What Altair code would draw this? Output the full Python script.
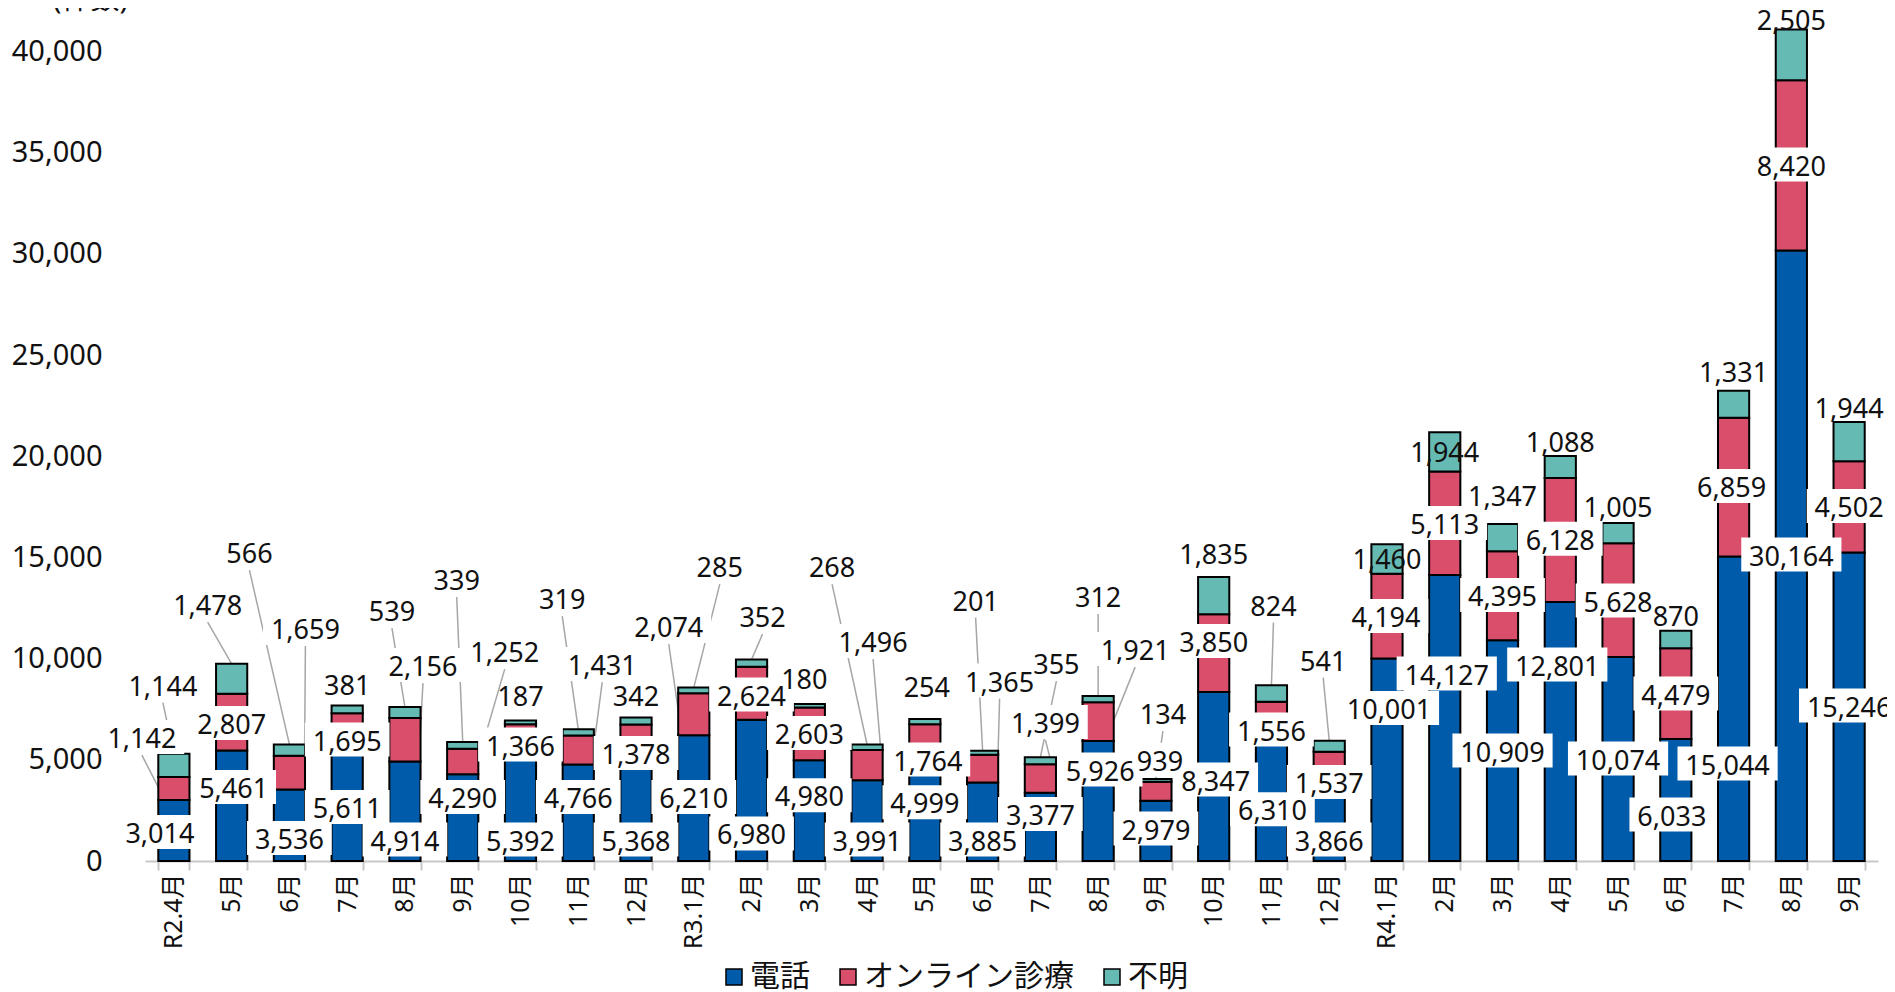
import altair as alt
import pandas as pd

# ---------------- data ----------------
months = ["R2.4月", "5月", "6月", "7月", "8月", "9月", "10月", "11月", "12月",
          "R3.1月", "2月", "3月", "4月", "5月", "6月", "7月", "8月", "9月",
          "10月", "11月", "12月", "R4.1月", "2月", "3月", "4月", "5月", "6月",
          "7月", "8月", "9月"]
phone = [3014, 5461, 3536, 5611, 4914, 4290, 5392, 4766, 5368, 6210, 6980, 4980,
         3991, 4999, 3885, 3377, 5926, 2979, 8347, 6310, 3866, 10001, 14127, 10909,
         12801, 10074, 6033, 15044, 30164, 15246]
online = [1142, 2807, 1659, 1695, 2156, 1252, 1366, 1431, 1378, 2074, 2624, 2603,
          1496, 1764, 1365, 1399, 1921, 939, 3850, 1556, 1537, 4194, 5113, 4395,
          6128, 5628, 4479, 6859, 8420, 4502]
unknown = [1144, 1478, 566, 381, 539, 339, 187, 319, 342, 285, 352, 180,
           268, 254, 201, 355, 312, 134, 1835, 824, 541, 1460, 1944, 1347,
           1088, 1005, 870, 1331, 2505, 1944]
series_names = ["電話", "オンライン診療", "不明"]
series_colors = ["#005BAB", "#D94E6B", "#66BAB4"]

# ---------------- label layout (position of each data label in counts, shift in px) ----------------
phone_lab_y = [1280, 3503, 983, 2515, 914, 3009, 914, 3009, 914, 3009, 1215, 3100,
               914, 2760, 914, 2169, 4368, 1453, 3874, 2406, 914, 7407, 9111, 5307,
               9556, 4911, 2144, 4664, 14991, 7530]
phone_lab_dx = [-14, 2, 0, 0, 0, 0, 0, 0, 0, 0, 0, 0, 0, 0, 0, 0, 2, 0, 2, 1, 0, 2, 2, 0,
                -3, 0, -4, -6, 0, 0]
online_lab_y = [5974, 6665, 11359, 5850, 9531, 10223, 5603, 9581, 5183, 11458, 8074, 6171,
                10717, 4862, 8765, 6715, 10322, 4852, 10717, 6344, 3750, 11952, 16548, 12990,
                15772, 12718, 8123, 18376, 34261, 17387]
online_lab_dx = [-32, 0, 16, 0, 18, 42, 0, 24, 0, -25, 0, 0, 6, 3, 17, 5, 37, 4, 0, 0, 0, -1,
                 0, 0, 0, 0, 0, -2, 0, 0]
unknown_lab_y = [8568, 12545, 15115, 8592, 12249, 13781, 8074, 12842, 8074, 14423, 11952, 8889,
                 14423, 8494, 12768, 9630, 12941, 7160, 15065, 12520, 9803, 14818, 20105, 17956,
                 20599, 17387, 12026, 24058, 41450, 22279]
unknown_lab_dx = [-11, -24, -40, 0, -13, -6, 0, -16, 0, 26, 11, -5, -35, 2, -7, 16, 0, 7, 0, 2,
                  -6, 0, 0, 0, 0, 0, 0, 0, 0, 0]
online_leader = [1, 0, 1, 0, 1, 1, 0, 1, 0, 1, 0, 0, 1, 0, 1, 1, 1, 0, 0, 0,
                 0, 0, 0, 0, 0, 0, 0, 0, 0, 0]
unknown_leader = [1, 1, 1, 0, 1, 1, 0, 1, 0, 1, 1, 0, 1, 0, 1, 1, 1, 1, 0, 1,
                  1, 0, 0, 0, 0, 0, 0, 0, 0, 0]

# ---------------- geometry ----------------
W, H = 1733, 850
YMAX = 42000
N = len(months)
STEP = W / N
PX = YMAX / H
FONT = "Noto Sans, Noto Sans CJK JP, sans-serif"
LFS = 27
TXT = "#111111"


def text_w(s):
    return sum(0.572 * LFS if c.isdigit() else 0.258 * LFS for c in s)


bars_df = pd.DataFrame([
    {"idx": i, "series": s, "value": v, "ord": k}
    for k, (s, arr) in enumerate(zip(series_names, [phone, online, unknown]))
    for i, v in enumerate(arr)
])

lab_rows, box_rows, lead_rows = [], [], []
for i in range(N):
    vals = [phone[i], online[i], unknown[i]]
    ys = [phone_lab_y[i], online_lab_y[i], unknown_lab_y[i]]
    dxs = [phone_lab_dx[i], online_lab_dx[i], unknown_lab_dx[i]]
    for s in range(3):
        t = f"{vals[s]:,}"
        xq = i + dxs[s] / STEP
        lab_rows.append({"x": xq, "y": ys[s], "t": t})
        if s < 2:
            half = (text_w(t) + 16) / 2 / STEP
            yc = ys[s] + 3 * PX
            box_rows.append({"x": xq - half, "x2": xq + half,
                             "y": yc - 17 * PX, "y2": yc + 17 * PX})
    total = phone[i] + online[i] + unknown[i]
    if unknown_leader[i]:
        lead_rows.append({"x": i + dxs[2] / STEP, "y": ys[2] - 15 * PX,
                          "x2": i, "y2": total})
    if online_leader[i]:
        side = 0 if abs(dxs[1]) < 5 else (1 if dxs[1] > 0 else -1)
        lead_rows.append({"x": i + dxs[1] / STEP, "y": ys[1] - 15 * PX,
                          "x2": i + side * 15 / STEP, "y2": phone[i] + online[i] / 2})

lab_df = pd.DataFrame(lab_rows)
box_df = pd.DataFrame(box_rows)
lead_df = pd.DataFrame(lead_rows)

yscale = alt.Scale(domain=[0, YMAX], nice=False, zero=True)
qx = alt.Scale(domain=[-0.5, N - 0.5], nice=False, zero=False)

month_expr = "[" + ",".join(f"'{m}'" for m in months) + "][datum.value]"

leaders = alt.Chart(lead_df).mark_rule(color="#A6A6A6", strokeWidth=1.5).encode(
    x=alt.X("x:Q", scale=qx, axis=None),
    x2="x2:Q",
    y=alt.Y("y:Q", scale=yscale, axis=None),
    y2="y2:Q",
)

bars = alt.Chart(bars_df).mark_bar(stroke="black", strokeWidth=2).encode(
    x=alt.X("idx:O", scale=alt.Scale(paddingInner=0.46, paddingOuter=0.23),
            axis=alt.Axis(labelExpr=month_expr, labelAngle=-90, labelFontSize=25,
                          labelFont=FONT, labelColor=TXT, labelPadding=3,
                          tickBand="extent", tickSize=9, tickColor="#C8C8C8", tickWidth=2,
                          domainColor="#C8C8C8", domainWidth=2, title=None, grid=False)),
    y=alt.Y("value:Q", stack="zero", scale=yscale,
            axis=alt.Axis(values=list(range(0, 40001, 5000)), format=",.0f",
                          labelFontSize=29, labelFont=FONT, labelColor=TXT,
                          labelPadding=43, ticks=False, domain=False,
                          gridColor="#D9D9D9", gridWidth=2,
                          title="(件数)", titleAngle=0, titleX=-55, titleY=3,
                          titleBaseline="bottom", titleAlign="center",
                          titleFontSize=29, titleFont=FONT, titleFontWeight="normal",
                          titleColor=TXT)),
    color=alt.Color("series:N", scale=alt.Scale(domain=series_names, range=series_colors),
                    legend=alt.Legend(orient="none", legendX=574, legendY=951,
                                      direction="horizontal", title=None,
                                      symbolType="square", symbolSize=256,
                                      symbolStrokeColor="black", symbolStrokeWidth=1.5,
                                      labelFontSize=30, labelFont=FONT, labelColor=TXT,
                                      labelLimit=400, columnPadding=23, labelOffset=1)),
    order=alt.Order("ord:Q", sort="ascending"),
)

boxes = alt.Chart(box_df).mark_rect(fill="white").encode(
    x=alt.X("x:Q", scale=qx, axis=None),
    x2="x2:Q",
    y=alt.Y("y:Q", scale=yscale, axis=None),
    y2="y2:Q",
)

labels = alt.Chart(lab_df).mark_text(fontSize=LFS, font=FONT, color=TXT,
                                     align="center", baseline="middle").encode(
    x=alt.X("x:Q", scale=qx, axis=None),
    y=alt.Y("y:Q", scale=yscale, axis=None),
    text="t:N",
)

chart = alt.layer(leaders, bars, boxes, labels).resolve_scale(
    x="independent", y="shared"
).resolve_axis(y="independent").properties(
    width=W, height=H,
    autosize=alt.AutoSizeParams(type="none"),
    padding={"left": 137, "top": 3, "right": 9, "bottom": 132},
    background="white",
).configure_view(stroke=None)

chart.save("out.html", embed_options={"renderer": "svg", "actions": False})
